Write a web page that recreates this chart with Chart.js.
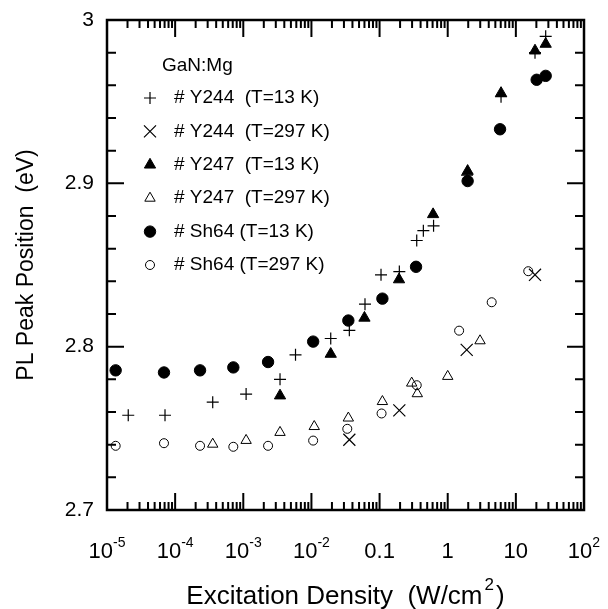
<!DOCTYPE html>
<html>
<head>
<meta charset="utf-8">
<script src="https://cdn.jsdelivr.net/npm/chart.js@4/dist/chart.umd.min.js"></script>
<style>
  body { margin: 0; background: #fff; }
  #wrap { width: 608px; height: 609px; }
</style>
</head>
<body>
<div id="wrap"><canvas id="plChart" width="608" height="609"></canvas></div>
<script>
// values
const y244LowX  = [2.05e-5, 7.1e-5, 3.56e-4, 1.1e-3, 3.46e-3, 5.84e-3, 0.0192, 0.036, 0.0611, 0.105, 0.195, 0.351, 0.439, 0.62, 1.92, 6.06, 19.1, 27.4];
const y244LowY  = [2.758, 2.758, 2.766, 2.771, 2.780, 2.795, 2.805, 2.810, 2.826, 2.844, 2.846, 2.865, 2.871, 2.874, 2.905, 2.953, 2.980, 2.990];
const y244RoomX = [0.036, 0.195, 1.9, 19.1];
const y244RoomY = [2.743, 2.761, 2.798, 2.844];
const y247LowX  = [3.46e-3, 0.0192, 0.06, 0.193, 0.61, 1.96, 6.06, 19.1, 27.4];
const y247LowY  = [2.770, 2.7955, 2.8176, 2.8411, 2.881, 2.9075, 2.9552, 2.9812, 2.9853];
const y247RoomX = [3.56e-4, 1.1e-3, 3.46e-3, 0.011, 0.0348, 0.11, 0.296, 0.358, 1.0, 2.98];
const y247RoomY = [2.7403, 2.7426, 2.7475, 2.7511, 2.7563, 2.7664, 2.7777, 2.7712, 2.7818, 2.8036];
const sh64LowX  = [1.34e-5, 6.86e-5, 2.32e-4, 7.14e-4, 2.31e-3, 0.0106, 0.0348, 0.11, 0.343, 1.96, 5.86, 20.2, 27.4];
const sh64LowY  = [2.7855, 2.7842, 2.7855, 2.7873, 2.7906, 2.8031, 2.816, 2.8294, 2.8489, 2.9014, 2.9331, 2.9634, 2.9658];
const sh64RoomX = [1.34e-5, 6.86e-5, 2.32e-4, 7.14e-4, 2.31e-3, 0.0106, 0.0336, 0.107, 0.351, 1.47, 4.42, 15.2];
const sh64RoomY = [2.7393, 2.7409, 2.7393, 2.7387, 2.7393, 2.7425, 2.7497, 2.7591, 2.7764, 2.8098, 2.8272, 2.8462];

const seriesLabels = ["# Y244  (T=13 K)", "# Y244  (T=297 K)", "# Y247  (T=13 K)", "# Y247  (T=297 K)", "# Sh64 (T=13 K)", "# Sh64 (T=297 K)"];
const legendTitle = "GaN:Mg";
const xTickValues = [1e-5, 1e-4, 1e-3, 1e-2, 0.1, 1, 10, 100];
const xTickBase = ["10", "10", "10", "10", "0.1", "1", "10", "10"];
const xTickExp = ["-5", "-4", "-3", "-2", "", "", "", "2"];
const yTickValues = [2.7, 2.8, 2.9, 3.0];
const yTickLabels = ["2.7", "2.8", "2.9", "3"];

const FONT = "'Liberation Sans', Arial, sans-serif";

const pts = (xs, ys) => xs.map((x, i) => ({ x: x, y: ys[i] }));

const marker = (label, data, style, radius, filled, width) => ({
  label: label,
  data: data,
  pointStyle: style,
  pointRadius: radius,
  pointHoverRadius: radius,
  pointBorderWidth: width,
  pointBorderColor: "#000",
  pointBackgroundColor: filled ? "#000" : "rgba(0,0,0,0)",
  borderColor: "#000",
  backgroundColor: filled ? "#000" : "rgba(0,0,0,0)",
  showLine: false,
});

const datasets = [
  marker(seriesLabels[0], pts(y244LowX, y244LowY), "cross", 6, false, 1.2),
  marker(seriesLabels[1], pts(y244RoomX, y244RoomY), "crossRot", 8.5, false, 1.2),
  marker(seriesLabels[2], pts(y247LowX, y247LowY), "triangle", 6.5, true, 1),
  marker(seriesLabels[3], pts(y247RoomX, y247RoomY), "triangle", 6, false, 1),
  marker(seriesLabels[4], pts(sh64LowX, sh64LowY), "circle", 5.7, true, 1),
  marker(seriesLabels[5], pts(sh64RoomX, sh64RoomY), "circle", 4.5, false, 1),
];

// frame, inward ticks, tick labels, axis titles and the legend box
const framePlugin = {
  id: "frame",
  afterDraw(chart) {
    const { ctx, chartArea: a, scales } = chart;
    const xs = scales.x, ys = scales.y;
    ctx.save();
    ctx.strokeStyle = "#000";
    ctx.fillStyle = "#000";

    ctx.lineWidth = 2;
    for (let d = -5; d < 2; d++) {
      for (let m = 1; m <= 9; m++) {
        const px = xs.getPixelForValue(m * Math.pow(10, d));
        const len = m === 1 ? 17 : 8;
        ctx.beginPath();
        ctx.moveTo(px, a.bottom); ctx.lineTo(px, a.bottom - len);
        ctx.moveTo(px, a.top); ctx.lineTo(px, a.top + len);
        ctx.stroke();
      }
    }
    for (let k = 0; k <= 15; k++) {
      const v = 2.7 + k * 0.02;
      const py = ys.getPixelForValue(v);
      const len = k % 5 === 0 ? 17 : 9;
      ctx.beginPath();
      ctx.moveTo(a.left, py); ctx.lineTo(a.left + len, py);
      ctx.moveTo(a.right, py); ctx.lineTo(a.right - len, py);
      ctx.stroke();
    }
    ctx.lineWidth = 2.5;
    ctx.strokeRect(a.left, a.top, a.right - a.left, a.bottom - a.top);

    // y tick labels
    ctx.font = "21px " + FONT;
    ctx.textAlign = "right";
    ctx.textBaseline = "middle";
    yTickValues.forEach((v, i) => {
      ctx.fillText(yTickLabels[i], a.left - 13, ys.getPixelForValue(v));
    });

    // x tick labels with superscript exponents
    ctx.textBaseline = "alphabetic";
    ctx.textAlign = "left";
    xTickValues.forEach((v, i) => {
      const px = xs.getPixelForValue(v);
      ctx.font = "22px " + FONT;
      const wb = ctx.measureText(xTickBase[i]).width;
      ctx.font = "14px " + FONT;
      const we = xTickExp[i] ? ctx.measureText(xTickExp[i]).width : 0;
      const x0 = px - (wb + we) / 2;
      ctx.font = "22px " + FONT;
      ctx.fillText(xTickBase[i], x0, 558);
      if (xTickExp[i]) {
        ctx.font = "14px " + FONT;
        ctx.fillText(xTickExp[i], x0 + wb, 547);
      }
    });

    // x title
    const t1 = "Excitation Density  (W/cm", t2 = "2", t3 = ")";
    ctx.font = "26px " + FONT;
    const w1 = ctx.measureText(t1).width, w3 = ctx.measureText(t3).width;
    ctx.font = "17px " + FONT;
    const w2 = ctx.measureText(t2).width;
    let tx = (a.left + a.right) / 2 - (w1 + w2 + w3 + 4) / 2;
    ctx.font = "26px " + FONT;
    ctx.fillText(t1, tx, 604);
    ctx.font = "17px " + FONT;
    ctx.fillText(t2, tx + w1 + 2, 590);
    ctx.font = "26px " + FONT;
    ctx.fillText(t3, tx + w1 + w2 + 4, 604);

    // y title
    ctx.save();
    ctx.translate(27, (a.top + a.bottom) / 2);
    ctx.rotate(-Math.PI / 2);
    ctx.textAlign = "center";
    ctx.textBaseline = "middle";
    ctx.font = "23px " + FONT;
    ctx.fillText("PL Peak Position  (eV)", 0, 0);
    ctx.restore();

    // legend
    ctx.font = "19px " + FONT;
    ctx.textAlign = "left";
    ctx.textBaseline = "middle";
    ctx.fillText(legendTitle, 162, 66);
    chart.data.datasets.forEach((ds, i) => {
      const ly = 98 + i * 33.4;
      ctx.fillStyle = ds.pointBackgroundColor;
      ctx.strokeStyle = ds.pointBorderColor;
      ctx.lineWidth = ds.pointBorderWidth;
      Chart.helpers.drawPoint(ctx, {
        pointStyle: ds.pointStyle,
        radius: ds.pointRadius,
        borderWidth: ds.pointBorderWidth,
        rotation: 0,
      }, 150, ly);
      ctx.fillStyle = "#000";
      ctx.fillText(ds.label, 174, ly);
    });
    ctx.restore();
  },
};

new Chart(document.getElementById("plChart").getContext("2d"), {
  type: "scatter",
  data: { datasets: datasets },
  options: {
    responsive: false,
    animation: false,
    layout: { padding: { left: 107, right: 24, top: 20, bottom: 99 } },
    scales: {
      x: { type: "logarithmic", min: 1e-5, max: 100, display: false },
      y: { type: "linear", min: 2.7, max: 3.0, display: false },
    },
    plugins: {
      legend: { display: false },
      tooltip: { enabled: false },
    },
  },
  plugins: [framePlugin],
});
</script>
</body>
</html>
